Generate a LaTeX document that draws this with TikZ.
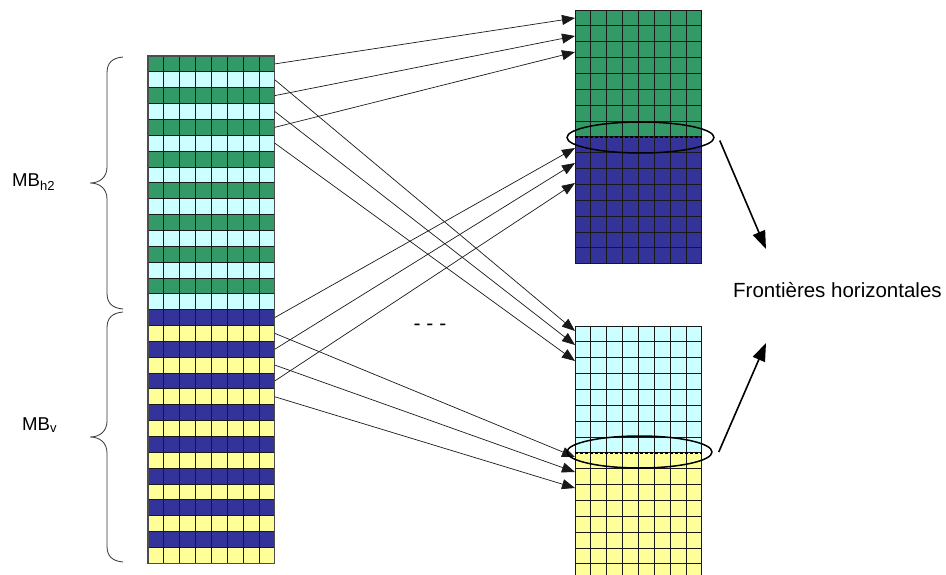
\documentclass[tikz,border=0pt]{standalone}
\usepackage{fontspec}
\setmainfont{Liberation Sans}
\usetikzlibrary{arrows.meta, positioning, shapes.geometric}

\definecolor{mbgreen}{RGB}{51,153,102}
\definecolor{mbcyan}{RGB}{204,255,255}
\definecolor{mbblue}{RGB}{51,51,153}
\definecolor{mbyellow}{RGB}{255,255,153}

\begin{document}
\begin{tikzpicture}[x=1pt, y=-1pt,
  cellline/.style={black!90, line width=0.8pt},
  link/.style={black!90, line width=0.7pt, -{Triangle[length=13pt, width=10pt]}},
  bigarrow/.style={black, line width=1.6pt, -{Triangle[length=18pt, width=13pt]}},
  mbbrace/.style={black!80, line width=0.8pt},
  border/.style={ellipse, draw, line width=1.5pt, inner sep=0pt},
  label/.style={font=\fontsize{18.6}{22}\selectfont, inner sep=0pt}]
  \clip (0,0) rectangle (946,575);

  % Left column (MB_h2 above, MB_v below)
  \foreach \r in {0,...,7} {
    \fill[mbgreen] (148,{56+2*\r*15.85}) rectangle ++(126.8,15.85);
    \fill[mbcyan] (148,{56+(2*\r+1)*15.85}) rectangle ++(126.8,15.85);
    \fill[mbblue] (148,{309.6+2*\r*15.85}) rectangle ++(126.8,15.85);
    \fill[mbyellow] (148,{309.6+(2*\r+1)*15.85}) rectangle ++(126.8,15.85);
  }
  \foreach \r in {1,...,31}
    \draw[cellline] (148,{56+\r*15.85}) -- ++(126.8,0);
  \foreach \c in {1,...,7}
    \draw[cellline] ({148+\c*15.85},56) -- ++(0,507.2);
  \draw[black!70, line width=1.2pt] (148,56) rectangle ++(126.8,507.2);

  % Right blocks
  \fill[mbgreen] (575,10) rectangle ++(126.8,126.8);
  \fill[mbblue] (575,136.8) rectangle ++(126.8,126.8);
  \fill[mbcyan] (575,326) rectangle ++(126.8,126.8);
  \fill[mbyellow] (575,452.8) rectangle ++(126.8,126.8);
  \foreach \y in {10,326} {
    \foreach \r in {1,...,15}
      \draw[cellline] (575,{\y+\r*15.85}) -- ++(126.8,0);
    \foreach \c in {1,...,7}
      \draw[cellline] ({575+\c*15.85},\y) -- ++(0,253.6);
    \draw[cellline] (575,\y) rectangle ++(126.8,253.6);
  }

  % Horizontal boundaries
  \foreach \y in {136.8,452.8}
    \draw[line width=2pt, dash pattern=on 2.5pt off 2.5pt] (575,\y) -- ++(126.8,0);

  % Braces
  \foreach \ya/\yb in {57/309, 312/562} {
    \pgfmathsetmacro{\ym}{(\ya+\yb)/2}
    \draw[mbbrace] (123,\ya) .. controls (112,{\ya+1}) and (107,{\ya+6}) .. (107,{\ya+16})
      -- (107,{\ym-16}) .. controls (107,{\ym-6}) and (100,\ym) .. (90,\ym)
      .. controls (100,\ym) and (107,{\ym+6}) .. (107,{\ym+16})
      -- (107,{\yb-16}) .. controls (107,{\yb-6}) and (112,{\yb-1}) .. (123,\yb);
  }

  % Labels
  \node[label, anchor=base west] (mbh) at (12,187) {MB\textsubscript{h2}};
  \node[label, anchor=base west] (mbv) at (22,430) {MB\textsubscript{v}};
  \node[label, font=\fontsize{20.5}{24}\selectfont, anchor=base west] (front) at (733,298) {Frontières horizontales};
  \node[label, font=\fontsize{21}{24}\selectfont, anchor=base] (etc) at (430,330) {- - -};

  % Row anchors and targets
  \foreach \r in {1,...,22}
    \coordinate (l\r) at (274.8,{56+(\r-0.5)*15.85});
  \foreach \n/\y in {g1/18, g2/36, g3/52, b1/148, b2/163, b3/183,
                     c1/331, c2/345, c3/361, y1/457, y2/472, y3/488}
    \coordinate (t\n) at (575,\y);

  % Links
  \foreach \s/\t in {1/g1, 3/g2, 5/g3, 2/c1, 4/c2, 6/c3,
                     17/b1, 19/b2, 21/b3, 18/y1, 20/y2, 22/y3}
    \draw[link] (l\s) -- (t\t);

  % Ellipses and arrows to the label
  \node[border, minimum width=147pt, minimum height=31pt] (ftop) at (640.5,137.5) {};
  \node[border, minimum width=145pt, minimum height=32pt] (fbot) at (639.5,452) {};
  \coordinate (ptop) at (766,249);
  \coordinate (pbot) at (766,343);
  \draw[bigarrow] ([shift={(5,3)}]ftop.east) -- (ptop);
  \draw[bigarrow] ([shift={(6,0)}]fbot.east) -- (pbot);
\end{tikzpicture}
\end{document}
